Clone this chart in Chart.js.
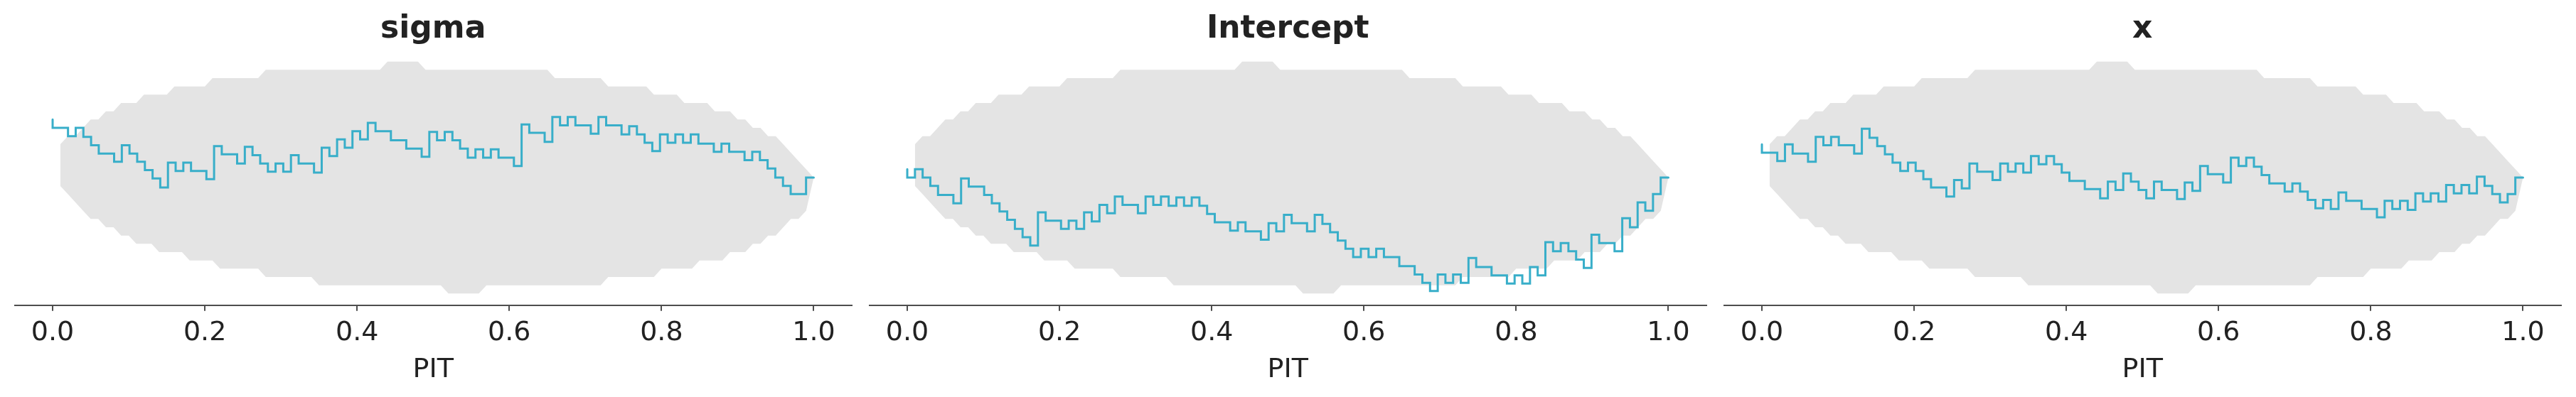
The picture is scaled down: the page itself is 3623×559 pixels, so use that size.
<!DOCTYPE html>
<html>
<head>
<meta charset="utf-8">
<title>PIT ECDF</title>
<script src="https://cdn.jsdelivr.net/npm/chart.js@4.4.0/dist/chart.umd.min.js"></script>
<style>
  body { margin: 0; background: #ffffff; }
  .panel { position: absolute; top: 0; width: 1202px; height: 559px; }
</style>
</head>
<body>
<div class="panel" style="left:0px"><canvas id="c0"></canvas></div>
<div class="panel" style="left:1202px"><canvas id="c1"></canvas></div>
<div class="panel" style="left:2404px"><canvas id="c2"></canvas></div>
<script>
// panel titles and x ticks
const titles = ['sigma', 'Intercept', 'x'];
const pitTicks = [0.0, 0.2, 0.4, 0.6, 0.8, 1.0];

// ECDF difference of the PIT values, 100 points from 0 to 1
const sigmaDiff = [
  0.070, 0.060, 0.060, 0.050, 0.060, 0.049, 0.039, 0.029, 0.029, 0.019,
  0.039, 0.029, 0.019, 0.009, -0.001, -0.012, 0.018, 0.008, 0.018, 0.008,
  0.008, -0.002, 0.038, 0.028, 0.028, 0.017, 0.037, 0.027, 0.017, 0.007,
  0.017, 0.007, 0.027, 0.017, 0.017, 0.006, 0.036, 0.026, 0.046, 0.036,
  0.056, 0.046, 0.066, 0.056, 0.056, 0.045, 0.045, 0.035, 0.035, 0.025,
  0.055, 0.045, 0.055, 0.045, 0.035, 0.024, 0.034, 0.024, 0.034, 0.024,
  0.024, 0.014, 0.064, 0.054, 0.054, 0.043, 0.073, 0.063, 0.073, 0.063,
  0.063, 0.053, 0.073, 0.063, 0.063, 0.052, 0.062, 0.052, 0.042, 0.032,
  0.052, 0.042, 0.052, 0.042, 0.052, 0.041, 0.041, 0.031, 0.041, 0.031,
  0.031, 0.021, 0.031, 0.021, 0.011, 0.000, -0.010, -0.020, -0.020, 0.000
];
const interceptDiff = [
  0.010, 0.000, 0.010, 0.000, -0.010, -0.021, -0.021, -0.031, -0.001, -0.011,
  -0.011, -0.021, -0.031, -0.041, -0.051, -0.062, -0.072, -0.082, -0.042, -0.052,
  -0.052, -0.062, -0.052, -0.062, -0.042, -0.053, -0.033, -0.043, -0.023, -0.033,
  -0.033, -0.043, -0.023, -0.033, -0.023, -0.034, -0.024, -0.034, -0.024, -0.034,
  -0.044, -0.054, -0.054, -0.064, -0.054, -0.065, -0.065, -0.075, -0.055, -0.065,
  -0.045, -0.055, -0.055, -0.065, -0.045, -0.056, -0.066, -0.076, -0.086, -0.096,
  -0.086, -0.096, -0.086, -0.096, -0.096, -0.107, -0.107, -0.117, -0.127, -0.137,
  -0.117, -0.127, -0.117, -0.127, -0.097, -0.108, -0.108, -0.118, -0.118, -0.128,
  -0.118, -0.128, -0.108, -0.118, -0.078, -0.089, -0.079, -0.089, -0.099, -0.109,
  -0.069, -0.079, -0.079, -0.089, -0.049, -0.060, -0.030, -0.040, -0.020, 0.000
];
const xDiff = [
  0.040, 0.030, 0.030, 0.020, 0.040, 0.029, 0.029, 0.019, 0.049, 0.039,
  0.049, 0.039, 0.039, 0.029, 0.059, 0.048, 0.038, 0.028, 0.018, 0.008,
  0.018, 0.008, -0.002, -0.012, -0.012, -0.023, -0.003, -0.013, 0.017, 0.007,
  0.007, -0.003, 0.017, 0.007, 0.017, 0.006, 0.026, 0.016, 0.026, 0.016,
  0.006, -0.004, -0.004, -0.014, -0.014, -0.025, -0.005, -0.015, 0.005, -0.005,
  -0.015, -0.025, -0.005, -0.015, -0.015, -0.026, -0.006, -0.016, 0.014, 0.004,
  0.004, -0.006, 0.024, 0.014, 0.024, 0.013, 0.003, -0.007, -0.007, -0.017,
  -0.007, -0.017, -0.027, -0.037, -0.027, -0.038, -0.018, -0.028, -0.028, -0.038,
  -0.038, -0.048, -0.028, -0.038, -0.028, -0.039, -0.019, -0.029, -0.019, -0.029,
  -0.009, -0.019, -0.009, -0.019, 0.001, -0.010, -0.020, -0.030, -0.020, 0.000
];
const panelDiffs = [sigmaDiff, interceptDiff, xDiff];

// simultaneous confidence band, at PIT 0.01 ... 1.00
const bandUpper = [
  0.04, 0.05, 0.05, 0.06, 0.07, 0.07, 0.08, 0.08, 0.09, 0.09,
  0.09, 0.10, 0.10, 0.10, 0.10, 0.11, 0.11, 0.11, 0.11, 0.11,
  0.12, 0.12, 0.12, 0.12, 0.12, 0.12, 0.12, 0.13, 0.13, 0.13,
  0.13, 0.13, 0.13, 0.13, 0.13, 0.13, 0.13, 0.13, 0.13, 0.13,
  0.13, 0.13, 0.13, 0.14, 0.14, 0.14, 0.14, 0.14, 0.13, 0.13,
  0.13, 0.13, 0.13, 0.13, 0.13, 0.13, 0.13, 0.13, 0.13, 0.13,
  0.13, 0.13, 0.13, 0.13, 0.13, 0.12, 0.12, 0.12, 0.12, 0.12,
  0.12, 0.12, 0.11, 0.11, 0.11, 0.11, 0.11, 0.11, 0.10, 0.10,
  0.10, 0.10, 0.09, 0.09, 0.09, 0.09, 0.08, 0.08, 0.08, 0.07,
  0.07, 0.06, 0.06, 0.05, 0.05, 0.04, 0.03, 0.02, 0.01, 0.00
];
const bandLower = [
  -0.01, -0.02, -0.03, -0.04, -0.05, -0.05, -0.06, -0.06, -0.07, -0.07,
  -0.08, -0.08, -0.08, -0.09, -0.09, -0.09, -0.09, -0.10, -0.10, -0.10,
  -0.10, -0.11, -0.11, -0.11, -0.11, -0.11, -0.11, -0.12, -0.12, -0.12,
  -0.12, -0.12, -0.12, -0.12, -0.13, -0.13, -0.13, -0.13, -0.13, -0.13,
  -0.13, -0.13, -0.13, -0.13, -0.13, -0.13, -0.13, -0.13, -0.13, -0.13,
  -0.13, -0.14, -0.14, -0.14, -0.14, -0.14, -0.13, -0.13, -0.13, -0.13,
  -0.13, -0.13, -0.13, -0.13, -0.13, -0.13, -0.13, -0.13, -0.13, -0.13,
  -0.13, -0.13, -0.12, -0.12, -0.12, -0.12, -0.12, -0.12, -0.12, -0.11,
  -0.11, -0.11, -0.11, -0.11, -0.10, -0.10, -0.10, -0.10, -0.09, -0.09,
  -0.09, -0.08, -0.08, -0.07, -0.07, -0.06, -0.05, -0.05, -0.04, 0.00
];

const fontFamily = 'DejaVu Sans';
const textColor = '#222222';
const axisColor = '#4d4d4d';
const lineColor = 'rgb(56, 174, 201)';
const bandColor = 'rgb(228, 228, 228)';

const makePanel = (id, title, diff) => {
  const line = diff.map((y, j) => ({ x: j / (diff.length - 1), y: y }));
  const upper = bandUpper.map((y, i) => ({ x: (i + 1) / bandUpper.length, y: y }));
  const lower = bandLower.map((y, i) => ({ x: (i + 1) / bandLower.length, y: y }));

  return new Chart(document.getElementById(id), {
    type: 'line',
    data: {
      datasets: [
        {
          data: line,
          borderColor: lineColor,
          borderWidth: 3,
          pointRadius: 0,
          stepped: 'after',
          fill: false,
          borderJoinStyle: 'miter',
          borderCapStyle: 'round'
        },
        {
          data: upper,
          borderColor: 'rgba(0,0,0,0)',
          backgroundColor: bandColor,
          borderWidth: 0,
          pointRadius: 0,
          fill: '+1'
        },
        {
          data: lower,
          borderColor: 'rgba(0,0,0,0)',
          borderWidth: 0,
          pointRadius: 0,
          fill: false
        }
      ]
    },
    options: {
      responsive: true,
      maintainAspectRatio: false,
      animation: false,
      layout: { padding: { left: 20.5, right: 4, top: 0, bottom: 0 }, autoPadding: false },
      plugins: {
        legend: { display: false },
        tooltip: { enabled: false },
        title: {
          display: true,
          text: title,
          color: textColor,
          font: { family: fontFamily, size: 44, weight: 'bold' },
          padding: { top: 15, bottom: 2.5 }
        }
      },
      scales: {
        x: {
          type: 'linear',
          min: -0.05,
          max: 1.05,
          afterBuildTicks: (scale) => { scale.ticks = pitTicks.map(v => ({ value: v })); },
          afterFit: (scale) => { scale.height = 129.3; },
          ticks: {
            callback: (v) => Number(v).toFixed(1),
            font: { family: fontFamily, size: 38 },
            color: textColor,
            padding: 9,
            maxRotation: 0,
            autoSkip: false
          },
          grid: { drawOnChartArea: false, drawTicks: true, tickLength: 8, color: axisColor, lineWidth: 2 },
          border: { display: true, color: axisColor, width: 2 },
          title: {
            display: true,
            text: 'PIT',
            color: textColor,
            font: { family: fontFamily, size: 38 },
            padding: { top: 0, bottom: 15.5 }
          }
        },
        y: { display: false, min: -0.154, max: 0.154 }
      }
    }
  });
};

titles.forEach((t, i) => makePanel('c' + i, t, panelDiffs[i]));
</script>
</body>
</html>
